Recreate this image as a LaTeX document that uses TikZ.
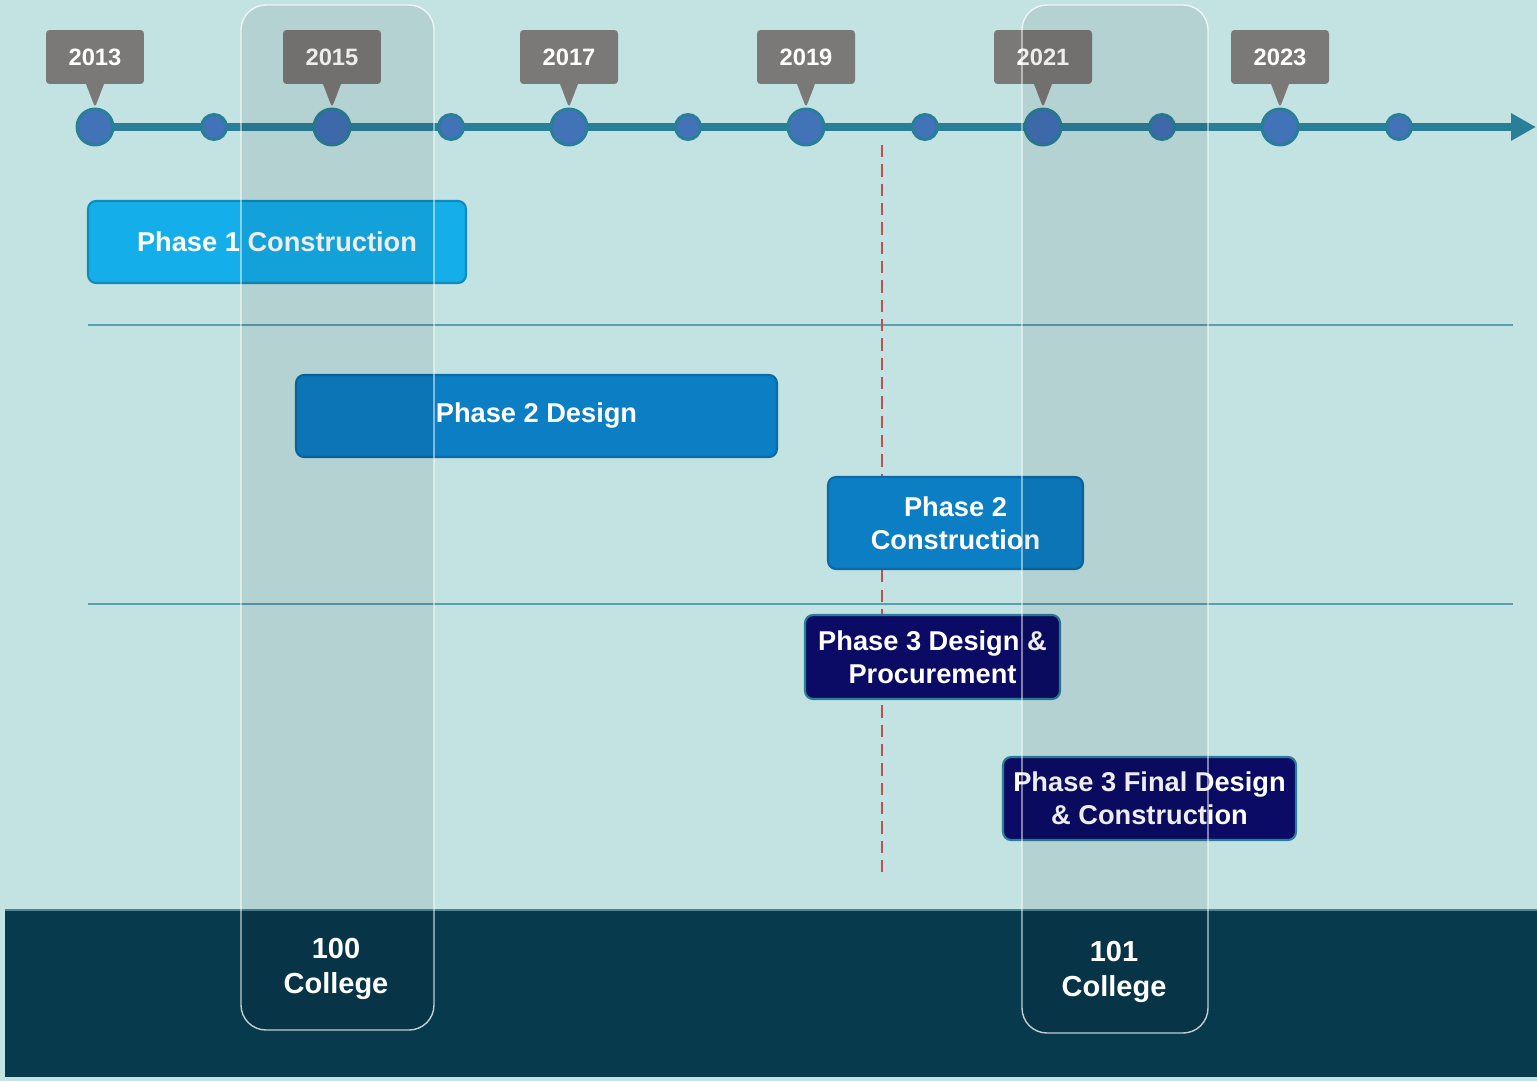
\documentclass[tikz,border=0pt]{standalone}
\usepackage{fontspec}
\setmainfont{Liberation Sans}
\usetikzlibrary{arrows.meta,shapes.callouts}
\definecolor{bgteal}{HTML}{C2E3E1}
\definecolor{banddark}{HTML}{083A4D}
\definecolor{bandedge}{HTML}{4F8497}
\definecolor{axisteal}{HTML}{2A7F98}
\definecolor{dotblue}{HTML}{4272B8}
\definecolor{calloutgrey}{HTML}{7B7878}
\definecolor{sepline}{HTML}{5B9EAE}
\definecolor{milered}{HTML}{C0504D}
\definecolor{phaseone}{HTML}{14AFEA}
\definecolor{phasetwo}{HTML}{0C7EC3}
\definecolor{phasenavy}{HTML}{0B0B66}

\begin{document}
\begin{tikzpicture}[x=0.02cm,y=-0.02cm]
        \tikzstyle{bigdot}=[circle,fill=dotblue,draw=axisteal,line width=1.7pt,minimum size=0.72cm,inner sep=0pt]
        \tikzstyle{smalldot}=[bigdot,minimum size=0.5cm]
        \tikzstyle{yearbox}=[rectangle callout,fill=calloutgrey,rounded corners=2pt,text=white,
            font=\bfseries\fontsize{13.5}{16}\selectfont,minimum width=1.96cm,minimum height=1.08cm,
            inner sep=0pt,callout pointer width=0.36cm]
        \tikzstyle{bar}=[rectangle,rounded corners=0.16cm,text=white,align=center,inner sep=0pt,
            font=\bfseries\fontsize{15.5}{18.7}\selectfont,line width=1.2pt]
        \tikzstyle{phaseA}=[bar,fill=phaseone,draw=phaseone!80!black]
        \tikzstyle{phaseB}=[bar,fill=phasetwo,draw=phasetwo!85!black]
        \tikzstyle{phaseC}=[bar,fill=phasenavy,draw=axisteal]
        \tikzstyle{axis}=[draw=axisteal,line width=4.5pt,-{Triangle[length=0.5cm,width=0.52cm]}]
        \tikzstyle{sep}=[draw=sepline,line width=1.6pt]
        \tikzstyle{marker}=[draw=milered,line width=1.1pt,dash pattern=on 7pt off 4pt]
        \tikzstyle{column}=[rounded corners=0.5cm,fill=black,fill opacity=0.07,draw=white,draw opacity=0.75,line width=0.8pt]
        \tikzstyle{college}=[text=white,align=center,font=\bfseries\fontsize{16.5}{20.4}\selectfont]

        \fill[bgteal] (0,0) rectangle (1537,1081);
        \useasboundingbox (0,0) rectangle (1537,1081);
        \fill[banddark] (5,910) rectangle (1537,1077);
        \draw[bandedge,line width=0.8pt] (5,910) -- (1537,910);

        \coordinate (sepAw) at (88,325);
        \coordinate (sepAe) at (1513,325);
        \coordinate (sepBw) at (88,604);
        \coordinate (sepBe) at (1513,604);
        \draw[sep] (sepAw) -- (sepAe);
        \draw[sep] (sepBw) -- (sepBe);

        \coordinate (markTop) at (882,145);
        \coordinate (markBot) at (882,875);
        \draw[marker] (markTop) -- (markBot);

        \coordinate (axisStart) at (95,127);
        \coordinate (axisEnd) at (1536,127);
        \draw[axis] (axisStart) -- (axisEnd);

        \foreach \yr [count=\i from 0] in {2014,2016,...,2024} {
            \pgfmathsetmacro\xx{214+237*\i}
            \node[smalldot] (m\yr) at (\xx,127) {};
        }
        \foreach \yr [count=\i from 0] in {2013,2015,...,2023} {
            \pgfmathsetmacro\xx{95+237*\i}
            \node[bigdot] (d\yr) at (\xx,127) {};
            \node[yearbox,callout absolute pointer={(d\yr.north)}] (t\yr) at (\xx,57) {\yr};
        }

        \node[phaseA,minimum width=7.56cm,minimum height=1.64cm] (p1build) at (277,242) {Phase 1 Construction};
        \node[phaseB,minimum width=9.62cm,minimum height=1.64cm] (p2design) at (536.5,416) {Phase 2 Design};
        \node[phaseB,minimum width=5.1cm,minimum height=1.84cm] (p2build) at (955.5,523) {Phase 2\\Construction};
        \node[phaseC,minimum width=5.1cm,minimum height=1.68cm] (p3design) at (932.5,657) {Phase 3 Design \&\\Procurement};
        \node[phaseC,minimum width=5.86cm,minimum height=1.66cm] (p3final) at (1149.5,798.5) {Phase 3 Final Design\\\& Construction};

        \draw[column] (241,5) rectangle (434,1030);
        \draw[column] (1022,5) rectangle (1208,1033);

        \node[college] (c100) at (336,969) {100\\College};
        \node[college] (c101) at (1114,972) {101\\College};
    \end{tikzpicture}
\end{document}
